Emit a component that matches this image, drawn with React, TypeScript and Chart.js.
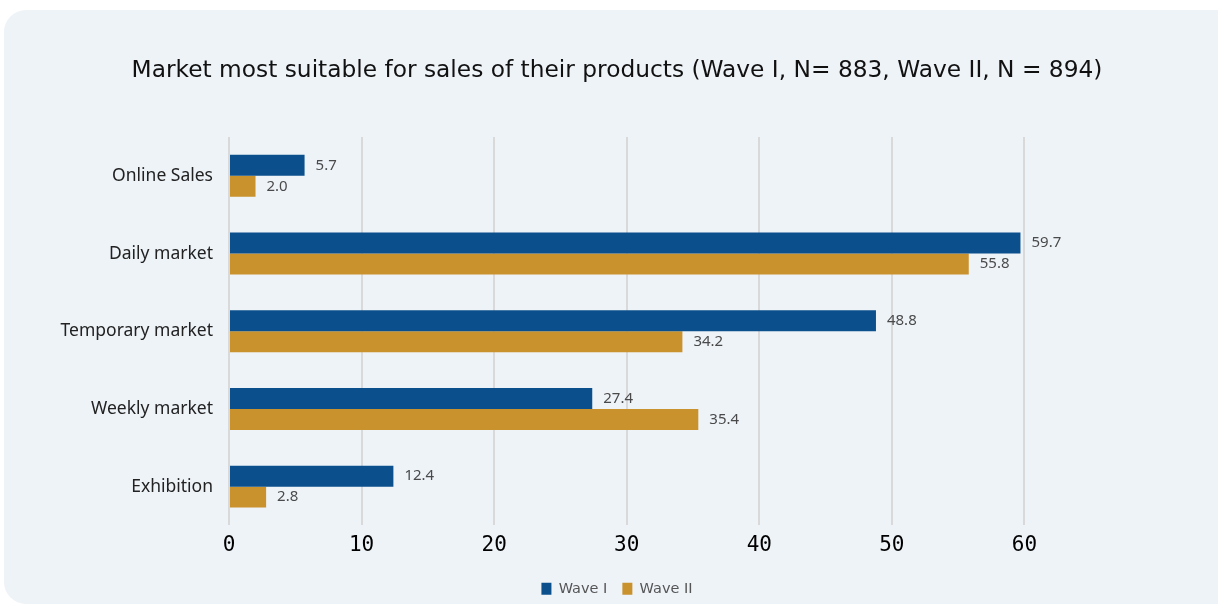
import React, { useEffect, useRef } from "react";
import { Chart, registerables } from "chart.js";

Chart.register(...registerables);

const categories = ["Online Sales", "Daily market", "Temporary market", "Weekly market", "Exhibition"];
const waveI = [5.7, 59.7, 48.8, 27.4, 12.4];
const waveII = [2.0, 55.8, 34.2, 35.4, 2.8];
const xTicks = [0, 10, 20, 30, 40, 50, 60];
const xAxisMax = 74.6;
const titleText = "Market most suitable for sales of their products (Wave I, N= 883, Wave II, N = 894)";

const valueLabels = {
  id: "valueLabels",
  afterDatasetsDraw(chart: any) {
    const ctx = chart.ctx;
    ctx.save();
    ctx.font = "15px 'Noto Sans', sans-serif";
    ctx.fillStyle = "#4a4a4a";
    ctx.textAlign = "left";
    ctx.textBaseline = "middle";
    chart.data.datasets.forEach((ds: any, i: number) => {
      const meta = chart.getDatasetMeta(i);
      meta.data.forEach((bar: any, j: number) => {
        ctx.fillText(Number(ds.data[j]).toFixed(1), bar.x + 11, bar.y);
      });
    });
    ctx.restore();
  },
};

export default function App() {
  const ref = useRef<HTMLCanvasElement>(null);
  useEffect(() => {
    document.body.style.margin = "0";
    const chart = new Chart(ref.current!, {
      type: "bar",
      data: {
        labels: categories,
        datasets: [
          { label: "Wave I", data: waveI, backgroundColor: "#0b4f8c" },
          { label: "Wave II", data: waveII, backgroundColor: "#c9922d" },
        ],
      },
      options: {
        indexAxis: "y",
        animation: false,
        responsive: false,
        devicePixelRatio: 1,
        datasets: { bar: { categoryPercentage: 0.54, barPercentage: 1 } },
        layout: { padding: { left: 16, right: 0, top: 0, bottom: 1 } },
        plugins: {
          title: {
            display: true,
            text: titleText,
            color: "#111",
            font: { family: "'DejaVu Sans', sans-serif", size: 23.3, weight: "normal" },
            padding: { top: 57, bottom: 52 },
          },
          legend: {
            position: "bottom",
            labels: {
              boxWidth: 10,
              boxHeight: 12,
              padding: 15,
              color: "#555",
              font: { family: "'DejaVu Sans', sans-serif", size: 14.5 },
            },
          },
          tooltip: { enabled: false },
        },
        scales: {
          x: {
            min: 0,
            max: xAxisMax,
            afterBuildTicks: (scale: any) => {
              scale.ticks = xTicks.map((v) => ({ value: v }));
            },
            grid: { color: "#d9d9d9", lineWidth: 2, drawTicks: false },
            border: { display: false },
            ticks: {
              padding: 12,
              color: "#000",
              font: { family: "'DejaVu Sans Mono', monospace", size: 21, lineHeight: 0.81 },
            },
          },
          y: {
            afterFit: (scale: any) => {
              scale.width = 213;
            },
            grid: { display: false, drawTicks: false },
            border: { display: false },
            ticks: {
              padding: 16,
              color: "#222",
              font: { family: "'Noto Sans', sans-serif", size: 17.5 },
            },
          },
        },
      },
      plugins: [valueLabels],
    });
    return () => chart.destroy();
  }, []);
  return (
    <div style={{ position: "relative", width: 1218, height: 607, overflow: "hidden", background: "#fff" }}>
      <div
        style={{
          position: "absolute",
          left: 4,
          top: 10,
          width: 1240,
          height: 594,
          background: "#eef3f8",
          borderRadius: 22,
        }}
      />
      <canvas ref={ref} width={1218} height={607} style={{ position: "absolute", left: 0, top: 0 }} />
    </div>
  );
}
